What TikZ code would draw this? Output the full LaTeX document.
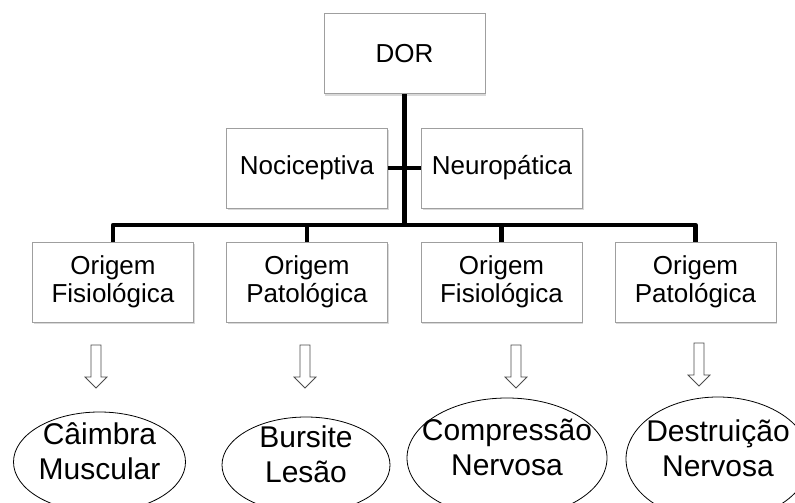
\documentclass[tikz,border=0pt]{standalone}
\usepackage{fontspec}
\setmainfont{Liberation Sans}
\usetikzlibrary{shapes.geometric,shadows,calc}
\tikzstyle{caixa}=[draw=gray!75, line width=1pt, fill=white, minimum width=161, minimum height=80,
  align=center, font=\fontsize{26}{27.5}\selectfont,
  drop shadow={shadow xshift=1pt, shadow yshift=-2pt, opacity=0.3}]
\tikzstyle{elipse}=[draw, ellipse, line width=0.8pt, inner ysep=0pt, inner xsep=-45pt, align=center,
  text height=49pt, text depth=14pt, font=\fontsize{30}{35}\selectfont]
\tikzstyle{ligacao}=[line width=4.5pt, line join=round]
\tikzstyle{seta}=[draw=black!70, line width=0.8pt, fill=white]
\newcommand{\setabaixo}[2]{\draw[seta, shift={(#1,#2)}] (-5,0) -- (5,0) -- (5,32) -- (11,32) -- (0,43) -- (-11,32) -- (-5,32) -- cycle;}

\begin{document}
\begin{tikzpicture}[x=1pt,y=-1pt]
\useasboundingbox (0,0) rectangle (795,503);
\clip (0,0) rectangle (795,503);

\node[caixa] (dor) at (404.5,53.5) {DOR};
\node[caixa] (noci) at (307,168) {Nociceptiva};
\node[caixa] (neuro) at (502,168) {Neuropática};

\node[caixa] (fis1) at (113,282) {Origem\\Fisiológica};
\node[caixa] (pat1) at (307,282) {Origem\\Patológica};
\node[caixa] (fis2) at (501.5,282) {Origem\\Fisiológica};
\node[caixa] (pat2) at (695.5,282) {Origem\\Patológica};

\coordinate (bus) at (0,225);

% ligacoes
\draw[ligacao] (dor.south) -- (dor.south |- bus);
\draw[ligacao] (noci.east) -- (neuro.west);
\draw[ligacao] (fis1.north) -- (fis1.north |- bus) -- (pat2.north |- bus) -- (pat2.north);
\foreach \n in {pat1,fis2} \draw[ligacao] (\n.north) -- (\n.north |- bus);

% setas
\setabaixo{96}{345}
\setabaixo{305}{345}
\setabaixo{516}{345}
\setabaixo{699}{343}

% exemplos
\node[elipse, minimum width=172, minimum height=100] (caimbra) at (99.5,462) {Câimbra\\Muscular};
\node[elipse, minimum width=168, minimum height=96] (bursite) at (306,465) {Bursite\\Lesão};
\node[elipse, minimum width=200, minimum height=120] (compressao) at (507,458) {Compressão\\Nervosa};
\node[elipse, minimum width=184, minimum height=124] (destruicao) at (718,459) {Destruição\\Nervosa};

\end{tikzpicture}
\end{document}
